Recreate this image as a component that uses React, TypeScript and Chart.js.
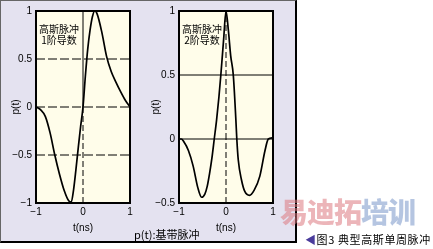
import React, { useEffect, useRef } from "react";
import { Chart, registerables } from "chart.js";

Chart.register(...registerables);

// Gaussian 1st derivative (left panel)
const T1 = [-1, -0.9, -0.8, -0.7, -0.6, -0.5, -0.4, -0.3, -0.25, -0.2, -0.15, -0.1, -0.05, 0, 0.05, 0.1, 0.15, 0.2, 0.25, 0.3, 0.4, 0.5, 0.6, 0.7, 0.8, 0.9, 1];
const P1 = [0, -0.03, -0.1, -0.27, -0.5, -0.7, -0.87, -0.98, -0.99, -0.86, -0.65, -0.42, -0.2, 0, 0.32, 0.6, 0.8, 0.94, 1.0, 0.97, 0.78, 0.53, 0.37, 0.26, 0.16, 0.07, 0];

// Gaussian 2nd derivative (right panel)
const T2 = [-1, -0.95, -0.9, -0.8, -0.7, -0.6, -0.52, -0.45, -0.4, -0.35, -0.3, -0.25, -0.2, -0.15, -0.11, -0.05, 0, 0.05, 0.1, 0.155, 0.21, 0.23, 0.26, 0.33, 0.4, 0.5, 0.6, 0.72, 0.83, 0.9, 1];
const P2 = [0, 0, -0.02, -0.09, -0.21, -0.38, -0.455, -0.43, -0.37, -0.27, -0.15, 0, 0.15, 0.33, 0.5, 0.78, 1.0, 0.85, 0.65, 0.5, 0.15, 0, -0.16, -0.32, -0.41, -0.44, -0.4, -0.29, -0.09, 0, 0.01];

const X_TICKS = [-1, 0, 1];
const Y1_TICKS = [-1, -0.5, 0, 0.5, 1];
const Y2_TICKS = [-0.5, 0, 0.5, 1];
const LEFT_H_LINES = [0.5, 0, -0.5];
const RIGHT_H_LINES = [0.5, 0];

const TICK_FONT = { family: "'Liberation Sans', 'DejaVu Sans', sans-serif", size: 10 };
const CJK = "'Noto Sans CJK SC', 'Noto Sans', sans-serif";

function fmt(v: number): string {
  return v < 0 ? "\u2212" + Math.abs(v) : String(v);
}

const framePlugin = {
  id: "frame",
  beforeDraw(chart: any) {
    const { ctx, chartArea: a } = chart;
    ctx.save();
    ctx.fillStyle = "#fffdea";
    ctx.fillRect(a.left, a.top, a.right - a.left, a.bottom - a.top);
    ctx.restore();
  },
  afterDatasetsDraw(chart: any) {
    const { ctx, chartArea: a } = chart;
    ctx.save();
    ctx.strokeStyle = "#000";
    ctx.lineWidth = 2;
    ctx.strokeRect(a.left, a.top, a.right - a.left, a.bottom - a.top);
    ctx.restore();
  },
};

type PanelOpts = {
  t: number[];
  p: number[];
  yMin: number;
  yMax: number;
  yTicks: number[];
  hLines: number[];
  hDash: number[];
  vTop: number[];
  vBottom: number[];
  yAxisWidth: number;
  padRight: number;
};

function buildConfig(o: PanelOpts): any {
  const refStyle = (dash: number[]) => ({
    borderColor: "#000",
    borderWidth: 1,
    borderDash: dash,
    pointRadius: 0,
    fill: false,
    tension: 0,
  });
  const datasets: any[] = [];
  o.hLines.forEach((h) => {
    datasets.push({ data: [{ x: -1, y: h }, { x: 1, y: h }], ...refStyle(o.hDash) });
  });
  datasets.push({ data: [{ x: 0, y: 0 }, { x: 0, y: o.yMax }], ...refStyle(o.vTop) });
  datasets.push({ data: [{ x: 0, y: o.yMin }, { x: 0, y: 0 }], ...refStyle(o.vBottom) });
  datasets.push({
    data: o.t.map((x, i) => ({ x, y: o.p[i] })),
    borderColor: "#000",
    borderWidth: 1.7,
    pointRadius: 0,
    fill: false,
    cubicInterpolationMode: "monotone",
  });
  return {
    type: "line",
    data: { datasets },
    plugins: [framePlugin],
    options: {
      responsive: false,
      animation: false,
      events: [],
      layout: { padding: { top: 11, right: o.padRight, left: 0, bottom: 0 } },
      plugins: { legend: { display: false }, tooltip: { enabled: false } },
      scales: {
        x: {
          type: "linear",
          position: "bottom",
          min: -1,
          max: 1,
          grid: { display: false, drawTicks: false },
          border: { display: false },
          afterBuildTicks: (s: any) => {
            s.ticks = X_TICKS.map((v) => ({ value: v }));
          },
          afterFit: (s: any) => {
            s.height = 40;
          },
          ticks: {
            callback: (v: any) => fmt(Number(v)),
            font: TICK_FONT,
            color: "#000",
            padding: 3,
            maxRotation: 0,
            autoSkip: false,
          },
          title: {
            display: true,
            text: "t(ns)",
            font: TICK_FONT,
            color: "#000",
            padding: { top: 0, bottom: 9 },
          },
        },
        y: {
          type: "linear",
          position: "left",
          min: o.yMin,
          max: o.yMax,
          grid: { display: false, drawTicks: false },
          border: { display: false },
          afterBuildTicks: (s: any) => {
            s.ticks = o.yTicks.map((v) => ({ value: v }));
          },
          afterFit: (s: any) => {
            s.width = o.yAxisWidth;
          },
          ticks: {
            callback: (v: any) => fmt(Number(v)),
            font: TICK_FONT,
            color: "#000",
            padding: 4,
            autoSkip: false,
          },
          title: {
            display: true,
            text: "p(t)",
            font: TICK_FONT,
            color: "#000",
            padding: { top: 10, bottom: 0 },
          },
        },
      },
    },
  };
}

function Panel(props: { opts: PanelOpts; left: number; width: number }) {
  const ref = useRef<HTMLCanvasElement>(null);
  useEffect(() => {
    if (!ref.current) return;
    const chart = new Chart(ref.current, buildConfig(props.opts));
    return () => chart.destroy();
  }, []);
  return (
    <canvas
      ref={ref}
      width={props.width}
      height={243}
      style={{ position: "absolute", left: props.left, top: 0, width: props.width, height: 243 }}
    />
  );
}

const label = (text: string, left: number, top: number, size: number, extra: any = {}) => (
  <div
    style={{
      position: "absolute",
      left,
      top,
      fontFamily: CJK,
      fontSize: size,
      lineHeight: `${size + 1}px`,
      color: "#000",
      whiteSpace: "pre",
      ...extra,
    }}
  >
    {text}
  </div>
);

export default function App() {
  return (
    <div style={{ position: "fixed", left: 0, top: 0, width: 433, height: 249, background: "#fff", overflow: "hidden" }}>
      <div
        style={{
          position: "absolute",
          left: 0,
          top: 0,
          width: 294,
          height: 240,
          background: "#e4e2f0",
          borderTop: "1px solid #666",
          borderLeft: "1px solid #666",
          borderRight: "2px solid #000",
          borderBottom: "2px solid #000",
        }}
      />
      <Panel
        left={0}
        width={140}
        opts={{
          t: T1,
          p: P1,
          yMin: -1,
          yMax: 1,
          yTicks: Y1_TICKS,
          hLines: LEFT_H_LINES,
          hDash: [9, 3],
          vTop: [],
          vBottom: [6, 3],
          yAxisWidth: 36,
          padRight: 10,
        }}
      />
      <Panel
        left={140}
        width={145}
        opts={{
          t: T2,
          p: P2,
          yMin: -0.5,
          yMax: 1,
          yTicks: Y2_TICKS,
          hLines: RIGHT_H_LINES,
          hDash: [],
          vTop: [6, 3],
          vBottom: [6, 3],
          yAxisWidth: 39,
          padRight: 12,
        }}
      />
      {label("高斯脉冲\n 1阶导数", 39, 23, 10)}
      {label("高斯脉冲\n 2阶导数", 182, 23, 10)}
      {label("p(t):基带脉冲", 134, 228, 11)}
      <div
        style={{
          position: "absolute",
          left: 280,
          top: 196,
          fontFamily: CJK,
          fontWeight: 900,
          fontSize: 28,
          lineHeight: "30px",
          whiteSpace: "pre",
          letterSpacing: -1,
        }}
      >
        <span style={{ color: "rgba(220,120,128,0.55)" }}>易迪拓</span>
        <span style={{ color: "rgba(120,150,200,0.55)" }}>培训</span>
      </div>
      <div
        style={{
          position: "absolute",
          left: 305,
          top: 232,
          fontFamily: CJK,
          fontSize: 11,
          lineHeight: "14px",
          whiteSpace: "pre",
          letterSpacing: 0.6,
          color: "#000",
        }}
      >
        <span style={{ color: "#4a3c9c" }}>◀</span>图3 典型高斯单周脉冲
      </div>
    </div>
  );
}
